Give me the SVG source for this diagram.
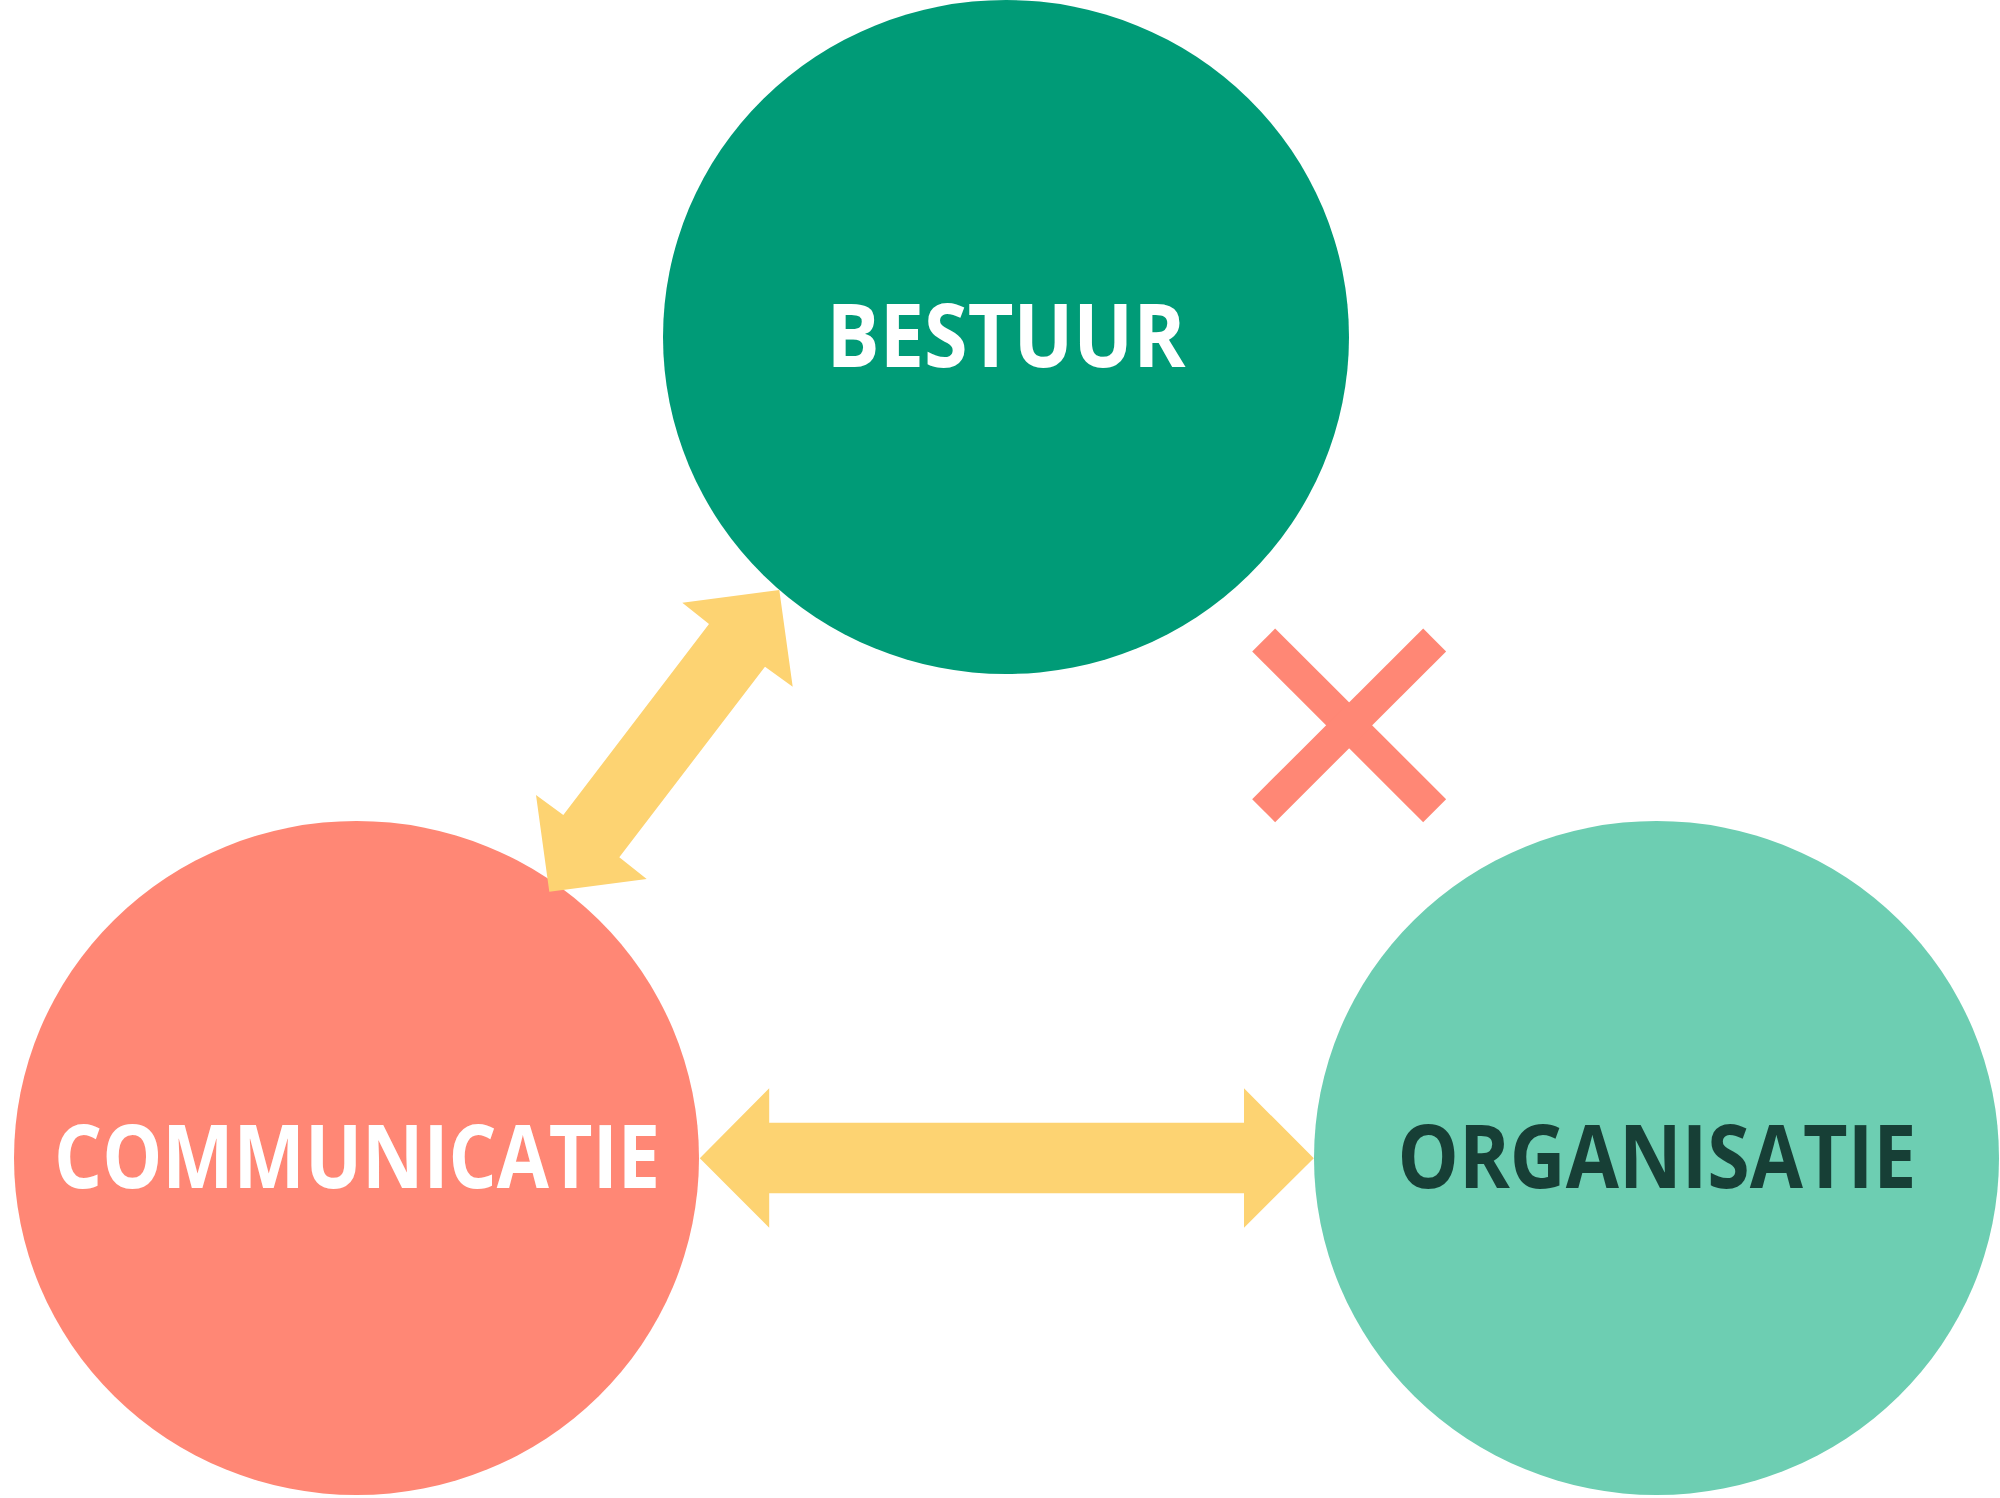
<svg xmlns="http://www.w3.org/2000/svg" width="2000" height="1498" viewBox="0 0 2000 1498">
<style>
.lbl{font-family:"Open Sans","Noto Sans","Liberation Sans",sans-serif;font-weight:700;font-size:87px;text-anchor:middle}
.w{fill:#ffffff}
.d{fill:#173F36}
.arrow{fill:#FDD372}
.cross{stroke:#FF8775;stroke-width:32.5;stroke-linecap:butt;fill:none}
</style>
<rect x="0" y="0" width="2000" height="1498" fill="#ffffff"/>
<g id="bestuur">
<ellipse cx="1006" cy="337" rx="343" ry="337" fill="#009B77"/>
<text class="lbl w" x="1006" y="367" textLength="359" lengthAdjust="spacingAndGlyphs">BESTUUR</text>
</g>
<g id="communicatie">
<ellipse cx="356.5" cy="1158" rx="342.5" ry="337" fill="#FF8775"/>
<text class="lbl w" x="357" y="1188" textLength="606" lengthAdjust="spacingAndGlyphs">COMMUNICATIE</text>
</g>
<g id="organisatie">
<ellipse cx="1656.5" cy="1158" rx="342.5" ry="337" fill="#6DCEB2"/>
<text class="lbl d" x="1657" y="1188" textLength="519" lengthAdjust="spacingAndGlyphs">ORGANISATIE</text>
</g>
<g id="connectors">
<path class="arrow" d="M779.3,590 L792.7,686.7 L765,666.7 L619.3,857.3 L646.7,879 L549.3,891.7 L536,795 L563.3,815 L709,624 L682.3,602.7 Z"/>
<path class="arrow" d="M699.8,1158.3 L769.2,1088.3 L769.2,1122.7 L1244,1122.7 L1244,1088.3 L1313.8,1158.3 L1244,1227.7 L1244,1193.3 L769.2,1193.3 L769.2,1227.7 Z"/>
<g id="cross">
<line class="cross" x1="1263.65" y1="640" x2="1434.65" y2="810.65"/>
<line class="cross" x1="1434.65" y1="640" x2="1263.65" y2="810.65"/>
</g>
</g>
</svg>
